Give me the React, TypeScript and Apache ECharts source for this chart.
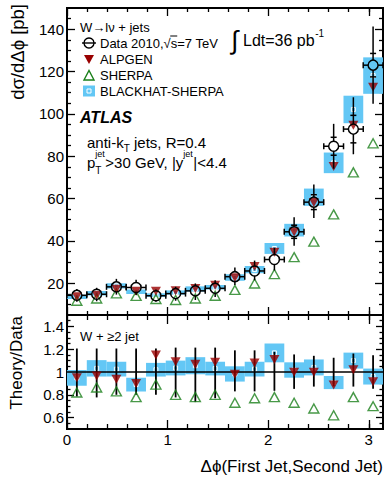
import React, { useEffect, useRef } from 'react';
import * as echarts from 'echarts';

// ---------- data ----------
const binCenters = [0.098, 0.295, 0.491, 0.687, 0.884, 1.08, 1.276, 1.473, 1.669, 1.865, 2.062, 2.258, 2.454, 2.651, 2.847, 3.043];
const binHalfWidth = 0.0982;
const dataValues = [14.3, 14.8, 18.3, 18.0, 14.1, 15.1, 16.4, 17.6, 23.1, 25.8, 31.2, 44.3, 58.3, 84.7, 92.8, 123.0];
const dataErrUp = [0.206, 0.206, 0.206, 0.206, 0.206, 0.214, 0.214, 0.214, 0.19, 0.19, 0.177, 0.154, 0.142, 0.125, 0.162, 0.148];
const dataErrDn = [0.215, 0.223, 0.2, 0.2, 0.2, 0.223, 0.264, 0.23, 0.17, 0.17, 0.165, 0.148, 0.128, 0.125, 0.128, 0.148];
const dataStatErr = [0.03, 0.03, 0.03, 0.03, 0.03, 0.03, 0.03, 0.03, 0.04, 0.04, 0.05, 0.07, 0.06, 0.05, 0.07, 0.045];
const alpgenRatio = [0.95, 0.965, 0.936, 0.9, 1.15, 1.09, 1.067, 1.085, 0.98, 1.08, 1.11, 0.997, 0.997, 0.887, 1.02, 0.915];
const sherpaRatio = [0.82, 0.864, 0.83, 0.78, 0.89, 0.8, 0.78, 0.8, 0.73, 0.77, 0.78, 0.73, 0.68, 0.62, 0.78, 0.7];
const blackhatLow = [0.88, 0.96, 0.96, 0.83, 0.96, 0.97, 0.98, 0.97, 0.916, 0.96, 1.085, 0.95, 0.97, 0.85, 1.03, 0.89];
const blackhatHigh = [1.017, 1.104, 1.09, 0.95, 1.08, 1.1, 1.13, 1.09, 1.05, 1.09, 1.25, 1.085, 1.11, 0.965, 1.17, 1.03];

const xMajorTicks = [0, 1, 2, 3];
const xMinorTicks = [0.2, 0.4, 0.6, 0.8, 1.2, 1.4, 1.6, 1.8, 2.2, 2.4, 2.6, 2.8, 3.0];
const topYMajorTicks = [20, 40, 60, 80, 100, 120, 140];
const topYMinorTicks = [10, 15, 25, 30, 35, 45, 50, 55, 65, 70, 75, 85, 90, 95, 105, 110, 115, 125, 130, 135, 145];
const ratioYMajorTicks = [0.6, 0.8, 1, 1.2, 1.4];
const ratioYMinorTicks = [0.55, 0.65, 0.7, 0.75, 0.85, 0.9, 0.95, 1.05, 1.1, 1.15, 1.25, 1.3, 1.35, 1.45];

// ---------- styling ----------
const FONT = '"Liberation Sans", Arial, Helvetica, sans-serif';
const BOX = '#63c7f5';
const ALP = '#990000';
const SHE = '#1a7f1a';

let _ctx: CanvasRenderingContext2D | null = null;
function measure(text: string, size: number, extra = ''): number {
  if (!_ctx) _ctx = document.createElement('canvas').getContext('2d');
  if (!_ctx) return text.length * size * 0.55;
  _ctx.font = `${extra} ${size}px ${FONT}`;
  return _ctx.measureText(text).width;
}

function txt(x: number, y: number, text: string, size: number, opts: any = {}) {
  const align = opts.align || 'left';
  return {
    type: 'text',
    x,
    y,
    rotation: opts.rotation || 0,
    z: 100,
    style: {
      text,
      fill: '#000',
      font: `${opts.extra || ''} ${size}px ${FONT}`,
      align,
      textAlign: align,
      verticalAlign: 'middle',
      textVerticalAlign: 'middle',
    },
  };
}

function line(x1: number, y1: number, x2: number, y2: number, color = '#000', w = 1.5) {
  return { type: 'line', z: 100, shape: { x1, y1, x2, y2 }, style: { stroke: color, lineWidth: w } };
}

function xAxis(grid: number, position: string, ticks: number[], len: number, labels: boolean) {
  return {
    type: 'value',
    gridIndex: grid,
    position,
    min: 0,
    max: Math.PI,
    axisLine: { show: false, onZero: false },
    splitLine: { show: false },
    axisTick: { show: true, inside: true, length: len, customValues: ticks, lineStyle: { color: '#000', width: 1.3 } },
    axisLabel: labels
      ? { show: true, customValues: ticks, fontSize: 15, fontFamily: FONT, color: '#000', margin: 3, formatter: (v: number) => String(v) }
      : { show: false },
  };
}

function yAxis(grid: number, position: string, min: number, max: number, ticks: number[], len: number, labels: boolean) {
  return {
    type: 'value',
    gridIndex: grid,
    position,
    min,
    max,
    axisLine: { show: false, onZero: false },
    splitLine: { show: false },
    axisTick: { show: true, inside: true, length: len, customValues: ticks, lineStyle: { color: '#000', width: 1.3 } },
    axisLabel: labels
      ? { show: true, customValues: ticks, fontSize: 15, fontFamily: FONT, color: '#000', margin: 3, formatter: (v: number) => String(v) }
      : { show: false },
  };
}

function boxRenderer(params: any, api: any) {
  const x = api.value(0);
  const lo = api.value(1);
  const hi = api.value(2);
  const p1 = api.coord([x - binHalfWidth, hi]);
  const p2 = api.coord([x + binHalfWidth, lo]);
  const mid = api.coord([x, (lo + hi) / 2]);
  return {
    type: 'group',
    children: [
      { type: 'rect', shape: { x: p1[0], y: p1[1], width: p2[0] - p1[0], height: p2[1] - p1[1] }, style: { fill: BOX } },
      { type: 'rect', shape: { x: mid[0] - 2, y: mid[1] - 2, width: 4, height: 4 }, style: { fill: 'none', stroke: '#fff', lineWidth: 1 } },
    ],
  };
}

function dataRenderer(params: any, api: any) {
  const x = api.value(0);
  const y = api.value(1);
  const up = api.value(2);
  const dn = api.value(3);
  const st = api.value(4);
  const c = api.coord([x, y]);
  const cx = c[0];
  const cy = c[1];
  const xl = api.coord([x - binHalfWidth, y])[0];
  const xr = api.coord([x + binHalfWidth, y])[0];
  const yt = api.coord([x, y + up])[1];
  const yb = api.coord([x, y - dn])[1];
  const ys1 = api.coord([x, y + st])[1];
  const ys2 = api.coord([x, y - st])[1];
  const R = 5;
  const ls = { stroke: '#000', lineWidth: 1.5 };
  const seg = (x1: number, y1: number, x2: number, y2: number) => ({ type: 'line', shape: { x1, y1, x2, y2 }, style: ls });
  const ch: any[] = [];
  if (yt < cy - R) ch.push(seg(cx, yt, cx, cy - R));
  if (yb > cy + R) ch.push(seg(cx, cy + R, cx, yb));
  ch.push(seg(xl, cy, cx - R, cy), seg(cx + R, cy, xr, cy));
  ch.push(seg(xl, cy - 3, xl, cy + 3), seg(xr, cy - 3, xr, cy + 3));
  if (ys1 < cy - R - 1) ch.push(seg(cx - 3, ys1, cx + 3, ys1));
  if (ys2 > cy + R + 1) ch.push(seg(cx - 3, ys2, cx + 3, ys2));
  ch.push({ type: 'circle', shape: { cx, cy, r: R }, style: { fill: 'none', stroke: '#000', lineWidth: 1.5 } });
  return { type: 'group', children: ch };
}

function ratioBarRenderer(params: any, api: any) {
  const x = api.value(0);
  const t = api.coord([x, 1 + api.value(1)]);
  const b = api.coord([x, 1 - api.value(2)]);
  return { type: 'line', shape: { x1: t[0], y1: t[1], x2: b[0], y2: b[1] }, style: { stroke: '#000', lineWidth: 1.8 } };
}

function buildGraphics() {
  const g: any[] = [];
  // axis titles
  g.push(txt(17, 4, 'dσ/dΔϕ [pb]', 18.5, { align: 'right', rotation: Math.PI / 2 }));
  g.push(txt(16, 316, 'Theory/Data', 17, { align: 'right', rotation: Math.PI / 2 }));
  g.push(txt(383, 466, 'Δϕ(First Jet,Second Jet)', 17, { align: 'right' }));

  // legend
  g.push(txt(80, 27, 'W→lν + jets', 13));
  g.push({ type: 'circle', z: 100, shape: { cx: 89, cy: 43, r: 5 }, style: { fill: 'none', stroke: '#000', lineWidth: 1.4 } });
  g.push(line(82, 43, 96, 43, '#000', 1.4));
  const dataLbl1 = 'Data 2010,';
  g.push(txt(100, 43, dataLbl1, 13));
  const wd1 = measure(dataLbl1, 13);
  const wsq = measure('√', 13);
  g.push(txt(100 + wd1, 43, '√', 13));
  g.push(line(100 + wd1 + wsq - 0.5, 36, 100 + wd1 + wsq + measure('s', 13), 36, '#000', 1));
  g.push(txt(100 + wd1 + wsq, 43, 's=7 TeV', 13));

  g.push({ type: 'polygon', z: 100, shape: { points: [[84, 55], [94, 55], [89, 64]] }, style: { fill: ALP } });
  g.push(txt(100, 59, 'ALPGEN', 13));
  g.push({ type: 'polygon', z: 100, shape: { points: [[84, 80], [94, 80], [89, 70.5]] }, style: { fill: 'none', stroke: SHE, lineWidth: 1.4 } });
  g.push(txt(100, 75, 'SHERPA', 13));
  g.push({ type: 'rect', z: 100, shape: { x: 83, y: 85.5, width: 12, height: 11 }, style: { fill: BOX } });
  g.push({ type: 'rect', z: 101, shape: { x: 87, y: 89, width: 4, height: 4 }, style: { fill: 'none', stroke: '#fff', lineWidth: 1 } });
  g.push(txt(100, 91, 'BLACKHAT-SHERPA', 13));

  // luminosity
  g.push(txt(231, 40, '∫', 26));
  const lx = 243;
  g.push(txt(lx, 40, 'Ldt=36 pb', 16));
  g.push(txt(lx + measure('Ldt=36 pb', 16) + 0.5, 33, '-1', 10));

  // ATLAS
  g.push(txt(80, 117, 'ATLAS', 16, { extra: 'italic bold' }));

  // jet selection
  const x0 = 87;
  let yc = 142;
  g.push(txt(x0, yc, 'anti-k', 15));
  let xx = x0 + measure('anti-k', 15);
  g.push(txt(xx, yc + 6, 'T', 10));
  xx += measure('T', 10);
  g.push(txt(xx, yc, ' jets, R=0.4', 15));

  yc = 162;
  g.push(txt(x0, yc, 'p', 15));
  xx = x0 + measure('p', 15);
  g.push(txt(xx, yc - 8, 'jet', 9));
  g.push(txt(xx, yc + 8, 'T', 10));
  xx += Math.max(measure('jet', 9), measure('T', 10)) + 0.5;
  const s1 = '>30 GeV, |y';
  g.push(txt(xx, yc, s1, 15));
  xx += measure(s1, 15);
  g.push(txt(xx, yc - 8, 'jet', 9));
  xx += measure('jet', 9) + 0.5;
  g.push(txt(xx, yc, '|<4.4', 15));

  // ratio panel label
  g.push(txt(80, 336, 'W + ≥2 jet', 13));
  return g;
}

export default function App() {
  const ref = useRef<HTMLDivElement>(null);
  useEffect(() => {
    if (!ref.current) return;
    const chart = echarts.init(ref.current, undefined, { renderer: 'svg' });

    const topBoxes = binCenters.map((c, i) => [c, dataValues[i] * blackhatLow[i], dataValues[i] * blackhatHigh[i]]);
    const topData = binCenters.map((c, i) => [
      c,
      dataValues[i],
      dataValues[i] * dataErrUp[i],
      dataValues[i] * dataErrDn[i],
      dataValues[i] * dataStatErr[i],
    ]);
    const topAlp = binCenters.map((c, i) => [c, dataValues[i] * alpgenRatio[i]]);
    const topShe = binCenters.map((c, i) => [c, dataValues[i] * sherpaRatio[i]]);
    const ratioBoxes = binCenters.map((c, i) => [c, blackhatLow[i], blackhatHigh[i]]);
    const ratioBars = binCenters.map((c, i) => [c, dataErrUp[i], dataErrDn[i]]);
    const ratioAlp = binCenters.map((c, i) => [c, alpgenRatio[i]]);
    const ratioShe = binCenters.map((c, i) => [c, sherpaRatio[i]]);

    const option: any = {
      animation: false,
      backgroundColor: '#fff',
      grid: [
        { left: 67, right: 2, top: 8, height: 307, show: true, borderColor: '#000', borderWidth: 2, backgroundColor: 'transparent' },
        { left: 67, right: 2, top: 315, height: 114, show: true, borderColor: '#000', borderWidth: 2, backgroundColor: 'transparent' },
      ],
      xAxis: [
        xAxis(0, 'bottom', xMajorTicks, 8, false),
        xAxis(0, 'bottom', xMinorTicks, 4, false),
        xAxis(0, 'top', xMajorTicks, 8, false),
        xAxis(0, 'top', xMinorTicks, 4, false),
        xAxis(1, 'bottom', xMajorTicks, 9, true),
        xAxis(1, 'bottom', xMinorTicks, 5, false),
        xAxis(1, 'top', xMajorTicks, 9, false),
        xAxis(1, 'top', xMinorTicks, 5, false),
      ],
      yAxis: [
        yAxis(0, 'left', 5, 150, topYMajorTicks, 8, true),
        yAxis(0, 'left', 5, 150, topYMinorTicks, 4, false),
        yAxis(0, 'right', 5, 150, topYMajorTicks, 8, false),
        yAxis(0, 'right', 5, 150, topYMinorTicks, 4, false),
        yAxis(1, 'left', 0.5, 1.5, ratioYMajorTicks, 7, true),
        yAxis(1, 'left', 0.5, 1.5, ratioYMinorTicks, 3.5, false),
        yAxis(1, 'right', 0.5, 1.5, ratioYMajorTicks, 7, false),
        yAxis(1, 'right', 0.5, 1.5, ratioYMinorTicks, 3.5, false),
      ],
      series: [
        { type: 'custom', xAxisIndex: 0, yAxisIndex: 0, data: topBoxes, renderItem: boxRenderer, z: 1 },
        {
          type: 'scatter', xAxisIndex: 0, yAxisIndex: 0, data: topShe, symbol: 'triangle', symbolSize: [10, 9], z: 2,
          itemStyle: { color: 'rgba(0,0,0,0)', borderColor: SHE, borderWidth: 1.4 },
        },
        {
          type: 'scatter', xAxisIndex: 0, yAxisIndex: 0, data: topAlp, symbol: 'triangle', symbolRotate: 180, symbolSize: [10, 9], z: 3,
          itemStyle: { color: ALP },
        },
        { type: 'custom', xAxisIndex: 0, yAxisIndex: 0, data: topData, renderItem: dataRenderer, z: 4 },

        { type: 'custom', xAxisIndex: 4, yAxisIndex: 4, data: ratioBoxes, renderItem: boxRenderer, z: 1 },
        {
          type: 'line', xAxisIndex: 4, yAxisIndex: 4, data: [[0, 1], [Math.PI, 1]], symbol: 'none', z: 2,
          lineStyle: { color: '#000', width: 1.5 },
        },
        { type: 'custom', xAxisIndex: 4, yAxisIndex: 4, data: ratioBars, renderItem: ratioBarRenderer, z: 3 },
        {
          type: 'scatter', xAxisIndex: 4, yAxisIndex: 4, data: ratioShe, symbol: 'triangle', symbolSize: [10, 9], z: 4,
          itemStyle: { color: 'rgba(0,0,0,0)', borderColor: SHE, borderWidth: 1.4 },
        },
        {
          type: 'scatter', xAxisIndex: 4, yAxisIndex: 4, data: ratioAlp, symbol: 'triangle', symbolRotate: 180, symbolSize: [10, 9], z: 5,
          itemStyle: { color: ALP },
        },
      ],
      graphic: buildGraphics(),
    };
    chart.setOption(option);
    return () => chart.dispose();
  }, []);

  return <div ref={ref} style={{ position: 'absolute', left: 0, top: 0, width: 385, height: 482 }} />;
}
